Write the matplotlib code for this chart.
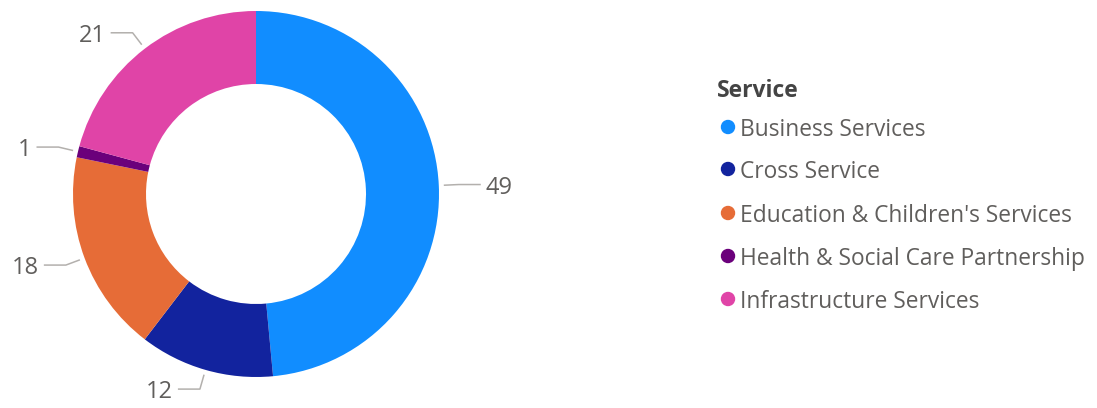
import numpy as np
import matplotlib
matplotlib.use("Agg")
import matplotlib.pyplot as plt

# Data
services = ["Business Services", "Cross Service", "Education & Children's Services",
            "Health & Social Care Partnership", "Infrastructure Services"]
counts = [49, 12, 18, 1, 21]
colors = ["#118DFF", "#12239E", "#E66C37", "#6B007B", "#E044A7"]

plt.rcParams['font.family'] = ['Open Sans', 'DejaVu Sans']

W, H = 1097, 408
fig = plt.figure(figsize=(W / 100, H / 100), dpi=100)

# pie axes in pixel-like units, centre of donut at (256, 194) from top-left
cx, cy = 256, 194
half_w, half_h = 250, 204
ax = fig.add_axes([(cx - half_w) / W, (H - cy - half_h) / H, 2 * half_w / W, 2 * half_h / H])

R = 183
wedges, _ = ax.pie(counts, colors=colors, radius=R, startangle=90, counterclock=False,
                   wedgeprops=dict(width=R - 110, linewidth=0), center=(0, 0), frame=True)
ax.set_xlim(-half_w, half_w)
ax.set_ylim(-half_h, half_h)
ax.set_aspect('equal')
ax.axis('off')

# leader lines and value labels
label_color = "#605E5C"
line_color = "#B3B0AD"
for w, v in zip(wedges, counts):
    ang = np.deg2rad((w.theta1 + w.theta2) / 2)
    c, s = np.cos(ang), np.sin(ang)
    x0, y0 = 188 * c, 188 * s
    x1, y1 = 203 * c, 203 * s
    side = 1 if c >= 0 else -1
    x2 = x1 + side * 22
    ax.plot([x0, x1, x2], [y0, y1, y1], color=line_color, lw=1.1, solid_capstyle='butt')
    ax.text(x2 + side * 5, y1, str(v), ha='left' if side > 0 else 'right', va='center_baseline',
            fontsize=17, color=label_color)

# legend
fig.text(717 / W, 1 - 88 / H, "Service", fontsize=16.5, fontweight='bold', color="#444444",
         ha='left', va='center_baseline')
legend_y = [127, 169, 213, 256, 299]
for name, col, yy in zip(services, colors, legend_y):
    fig.patches.append(matplotlib.patches.Ellipse((728 / W, 1 - yy / H), 13 / W, 13 / H,
                                                  transform=fig.transFigure, color=col))
    fig.text(740 / W, 1 - yy / H, name, fontsize=16.4, color=label_color, ha='left',
             va='center_baseline')

fig.savefig("out.png", dpi=100)
